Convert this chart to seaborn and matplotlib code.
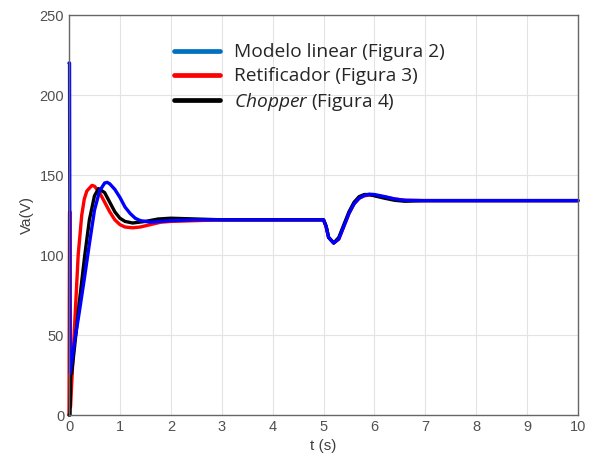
import pandas as pd
import matplotlib.pyplot as plt
import seaborn as sns
from matplotlib.lines import Line2D

# Resposta da tensao Va(t)
t_linear = [0, 0.01, 0.02, 0.1, 0.2, 0.3, 0.4, 0.5, 0.6, 0.7, 0.75, 0.8, 0.9, 1.0, 1.1,
            1.2, 1.3, 1.4, 1.6, 1.8, 2.0, 2.5, 3.0, 4.0, 5.0, 5.05, 5.1, 5.2, 5.3, 5.4,
            5.5, 5.6, 5.7, 5.8, 5.9, 6.0, 6.2, 6.4, 6.6, 7.0, 8.0, 9.0, 10.0]
va_linear = [220, 220, 26, 44, 64, 85, 107, 128, 140, 145, 145.4, 144.5, 141, 136, 130,
             126, 123, 121.5, 120.5, 121, 121.5, 122, 122, 122, 122, 118, 111, 107.5, 110, 118,
             126, 132, 135.5, 137.2, 138, 137.8, 136.5, 135, 134.2, 134, 134, 134, 134]

t_retif = [0, 0.01, 0.02, 0.03, 0.1, 0.18, 0.25, 0.3, 0.35, 0.45, 0.5, 0.6, 0.7, 0.8,
           0.9, 1.0, 1.1, 1.25, 1.4, 1.6, 1.8, 2.0, 2.5, 3.0, 4.0, 5.0, 5.05, 5.1, 5.2,
           5.3, 5.4, 5.5, 5.6, 5.7, 5.8, 5.9, 6.0, 6.2, 6.4, 6.6, 7.0, 8.0, 9.0, 10.0]
va_retif = [0, 127, 127, 5, 50, 100, 125, 135, 140, 143.5, 143, 139, 133, 127,
            122, 119, 117.5, 117, 117.5, 119, 120.5, 121, 121.5, 122, 122, 122, 118, 111, 107.5,
            110, 118, 126, 132, 135.5, 137, 137.5, 137.3, 136.3, 135, 134.2, 134, 134, 134, 134]

t_chopper = [0, 0.02, 0.03, 0.05, 0.1, 0.2, 0.31, 0.4, 0.5, 0.58, 0.7, 0.8, 0.9, 1.0,
             1.1, 1.25, 1.5, 1.75, 2.0, 2.5, 3.0, 4.0, 5.0, 5.05, 5.1, 5.2, 5.3, 5.4, 5.5,
             5.6, 5.7, 5.8, 5.9, 6.0, 6.2, 6.4, 6.6, 7.0, 8.0, 9.0, 10.0]
va_chopper = [0, 0, 25, 26, 40, 70, 100, 122, 137, 141.5, 139, 133, 127, 123,
              121, 120, 121, 122.5, 123, 122.5, 122, 122, 122, 118, 111, 107.5, 111, 119, 127,
              133, 136.5, 137.8, 137.8, 137, 135.5, 134.2, 133.6, 134, 134, 134, 134]

labels = ["Modelo linear (Figura 2)", "Retificador (Figura 3)", "$\\mathit{Chopper}$ (Figura 4)"]

df = pd.concat([
    pd.DataFrame({"t": t_retif, "Va": va_retif, "serie": "retif"}),
    pd.DataFrame({"t": t_chopper, "Va": va_chopper, "serie": "chopper"}),
    pd.DataFrame({"t": t_linear, "Va": va_linear, "serie": "linear"}),
], ignore_index=True)

sns.set_style("white")
plt.rcParams["font.family"] = ["Liberation Sans", "DejaVu Sans"]
plt.rcParams["mathtext.fontset"] = "custom"
plt.rcParams["mathtext.it"] = "Open Sans:italic"
plt.rcParams["mathtext.rm"] = "Open Sans"

fig = plt.figure(figsize=(5.94, 4.62), dpi=100)
ax = fig.add_axes([0.1162, 0.1017, 0.8569, 0.8658])

sns.lineplot(data=df, x="t", y="Va", hue="serie", hue_order=["retif", "chopper", "linear"],
             palette={"retif": "#ff0000", "chopper": "#000000", "linear": "#0000ff"},
             estimator=None, sort=False, linewidth=2.4, legend=False, ax=ax, clip_on=False)

ax.set_xlim(0, 10)
ax.set_ylim(0, 250)
ax.set_xticks(range(0, 11))
ax.set_yticks(range(0, 251, 50))
ax.grid(True, color="#e3e3e3", linewidth=0.8)
ax.set_axisbelow(True)
for s in ax.spines.values():
    s.set_color("#666666")
    s.set_linewidth(1.0)
ax.tick_params(direction="in", length=4, color="#666666", labelcolor="#505050", labelsize=10.5,
               top=False, right=False)
ax.set_xlabel("t (s)", fontsize=11, color="#404040")
ax.set_ylabel("Va(V)", fontsize=11, color="#404040")

handles = [Line2D([], [], color=c, linewidth=3.4) for c in ["#0070c0", "#ff0000", "#000000"]]
leg = ax.legend(handles, labels, loc="upper left", bbox_to_anchor=(0.172, 0.972), frameon=False,
                prop={"family": "Open Sans", "size": 13.8}, handlelength=2.4, handletextpad=0.72,
                labelspacing=0.3)

plt.savefig("out.png", dpi=100)
